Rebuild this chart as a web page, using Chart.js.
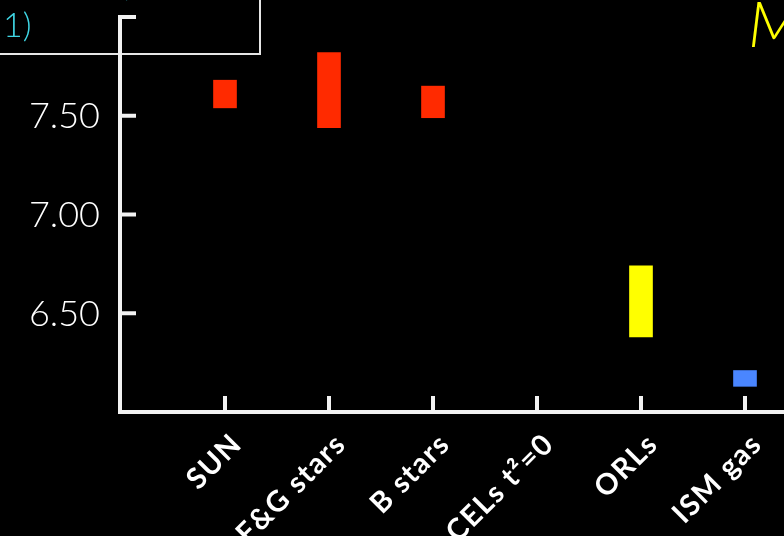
<!DOCTYPE html>
<html>
<head>
<meta charset="utf-8">
<script src="https://cdn.jsdelivr.net/npm/chart.js@4/dist/chart.umd.min.js"></script>
<style>
  html, body { margin: 0; padding: 0; background: #000; overflow: hidden; }
  #wrap { width: 784px; height: 536px; }
</style>
</head>
<body>
<div id="wrap"><canvas id="chart" width="784" height="536"></canvas></div>
<script>
// Oxygen abundance ranges per tracer (12 + log O/H)
const categories = ['SUN', 'F&G stars', 'B stars', 'CELs t\u00B2=0', 'ORLs', 'ISM gas'];
const lowValues  = [7.54, 7.44, 7.49, null, 6.38, 6.13];
const highValues = [7.68, 7.82, 7.65, null, 6.74, 6.21];
const barColors  = ['#ff2a00', '#ff2a00', '#ff2a00', '#ff2a00', '#ffff00', '#4a86ff'];
const yTickValues = [6.50, 7.00, 7.50, 8.00];
const yMin = 6.0, yMax = 8.0;

const points = [];
const colors = [];
categories.forEach((c, i) => {
  if (lowValues[i] == null) return;
  points.push({ x: i + 1, y: [lowValues[i], highValues[i]] });
  colors.push(barColors[i]);
});

const AXIS = '#f2f2f2';
const CYAN = '#3fd6e4';

const decorPlugin = {
  id: 'decor',
  afterDraw(chart) {
    const ctx = chart.ctx;
    const xs = chart.scales.x, ys = chart.scales.y;
    const area = chart.chartArea;
    const axisX = area.left - 1;
    const axisY = area.bottom;

    ctx.save();
    // y tick labels
    ctx.fillStyle = '#ffffff';
    ctx.font = '300 36px Lato, "Open Sans", sans-serif';
    ctx.textAlign = 'right';
    ctx.textBaseline = 'middle';
    yTickValues.forEach(v => {
      ctx.fillText(v.toFixed(2), 100, ys.getPixelForValue(v) + 1);
    });

    // caption box in the upper-left corner
    ctx.fillStyle = '#000';
    ctx.fillRect(-10, -10, 270, 64);
    ctx.strokeStyle = '#e6e6e6';
    ctx.lineWidth = 2;
    ctx.strokeRect(-10, -10, 270, 64);
    ctx.fillStyle = CYAN;
    ctx.textAlign = 'left';
    ctx.textBaseline = 'alphabetic';
    ctx.font = '300 34px Lato, "Open Sans", sans-serif';
    ctx.fillText('1)', 3, 37);
    ctx.fillText('(', 120, -4);

    // axes
    ctx.strokeStyle = AXIS;
    ctx.lineWidth = 4;
    ctx.lineCap = 'butt';
    ctx.beginPath();
    ctx.moveTo(axisX, ys.getPixelForValue(yMax) - 2);
    ctx.lineTo(axisX, axisY + 2);
    ctx.moveTo(axisX - 2, axisY);
    ctx.lineTo(chart.width, axisY);
    yTickValues.forEach(v => {
      const py = ys.getPixelForValue(v);
      ctx.moveTo(axisX, py);
      ctx.lineTo(axisX + 16, py);
    });
    categories.forEach((c, i) => {
      const px = xs.getPixelForValue(i + 1);
      ctx.moveTo(px, axisY);
      ctx.lineTo(px, axisY - 16);
    });
    ctx.stroke();

    // category labels, rotated
    ctx.fillStyle = '#ffffff';
    ctx.font = 'bold 29px Lato, "Open Sans", sans-serif';
    ctx.letterSpacing = '1.5px';
    ctx.textAlign = 'right';
    ctx.textBaseline = 'middle';
    categories.forEach((c, i) => {
      const px = xs.getPixelForValue(i + 1);
      ctx.save();
      ctx.translate(px + 12, axisY + 27);
      ctx.rotate(-Math.PI / 4);
      ctx.fillText(c, 0, 0);
      ctx.restore();
    });
    ctx.letterSpacing = '0px';

    // title fragment at the upper right
    ctx.fillStyle = '#ffff00';
    ctx.font = 'italic 300 64px Lato, "Open Sans", sans-serif';
    ctx.textAlign = 'left';
    ctx.textBaseline = 'alphabetic';
    ctx.fillText('M', 748, 47);
    ctx.restore();
  }
};

new Chart(document.getElementById('chart'), {
  type: 'bar',
  data: {
    datasets: [{
      data: points,
      backgroundColor: colors,
      borderWidth: 0,
      barThickness: 23
    }]
  },
  options: {
    responsive: false,
    animation: false,
    layout: { padding: { left: 121, right: 0, top: 17, bottom: 124 } },
    plugins: { legend: { display: false }, tooltip: { enabled: false } },
    scales: {
      x: { type: 'linear', display: false, offset: false, min: 0, max: 663 / 104 },
      y: { type: 'linear', display: false, min: yMin, max: yMax }
    }
  },
  plugins: [decorPlugin]
});
</script>
</body>
</html>
